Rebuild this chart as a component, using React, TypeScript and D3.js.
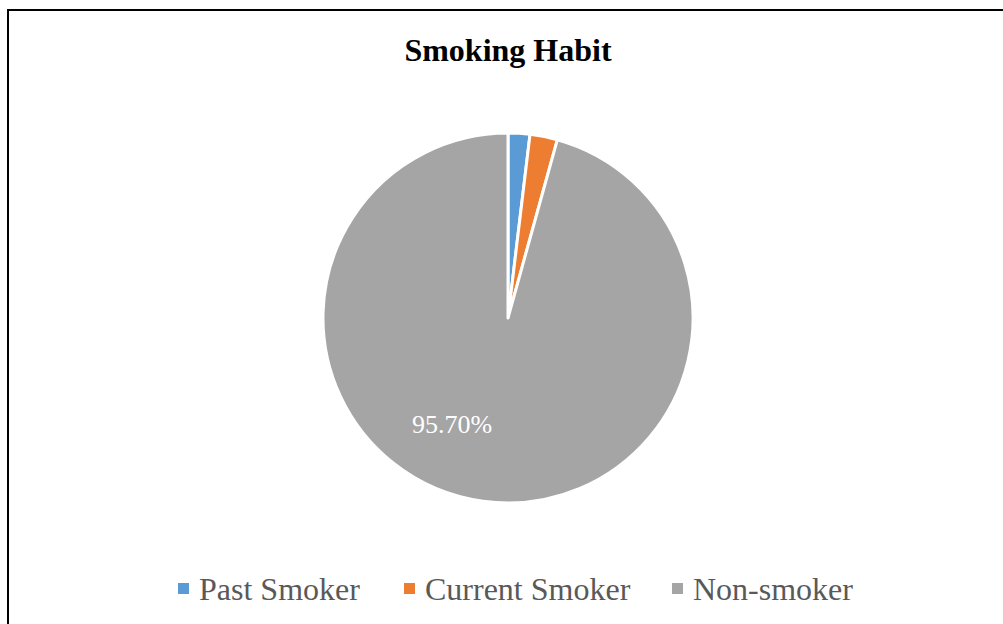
import React from "react";
import * as d3 from "d3";

const categories = ["Past Smoker", "Current Smoker", "Non-smoker"];
const values = [1.9, 2.4, 95.7];
const colors = ["#5B9BD5", "#ED7D31", "#A5A5A5"];
const labels = ["", "", "95.70%"];

export default function App() {
  const W = 1003, H = 624;
  const cx = 508, cy = 318, r = 185;
  const pie = d3.pie<number>().sort(null).value((d) => d)(values);
  const arc = d3.arc<d3.PieArcDatum<number>>().innerRadius(0).outerRadius(r);
  const legendX = [178, 404, 672];
  return (
    <svg width={W} height={H} style={{ position: "absolute", left: 0, top: 0 }}>
      <rect x={0} y={0} width={W} height={H} fill="#fff" />
      <rect x={8} y={10} width={W + 20} height={H + 20} fill="none" stroke="#000" strokeWidth={2} />
      <text x={508} y={61} textAnchor="middle" fontFamily="Liberation Serif" fontWeight="bold" fontSize={32} fill="#000">
        Smoking Habit
      </text>
      <g transform={`translate(${cx},${cy})`}>
        {pie.map((p, i) => (
          <path key={i} d={arc(p) || ""} fill={colors[i]} stroke="#fff" strokeWidth={3} strokeLinejoin="round" />
        ))}
        {pie.map((p, i) => {
          if (!labels[i]) return null;
          // best-fit style placement, shifted toward lower-left
          const a = (p.startAngle + p.endAngle) / 2 + 0.34;
          const rr = r * 0.66;
          const x = Math.sin(a) * rr;
          const y = -Math.cos(a) * rr;
          return (
            <text key={"l" + i} x={x} y={y} textAnchor="middle" dominantBaseline="middle" fontFamily="Liberation Serif" fontSize={26} fill="#fff">
              {labels[i]}
            </text>
          );
        })}
      </g>
      {categories.map((c, i) => (
        <g key={c}>
          <rect x={legendX[i]} y={583} width={11} height={11} fill={colors[i]} />
          <text x={legendX[i] + 21} y={600} fontFamily="Liberation Serif" fontSize={32} fill="#595959">
            {c}
          </text>
        </g>
      ))}
    </svg>
  );
}
